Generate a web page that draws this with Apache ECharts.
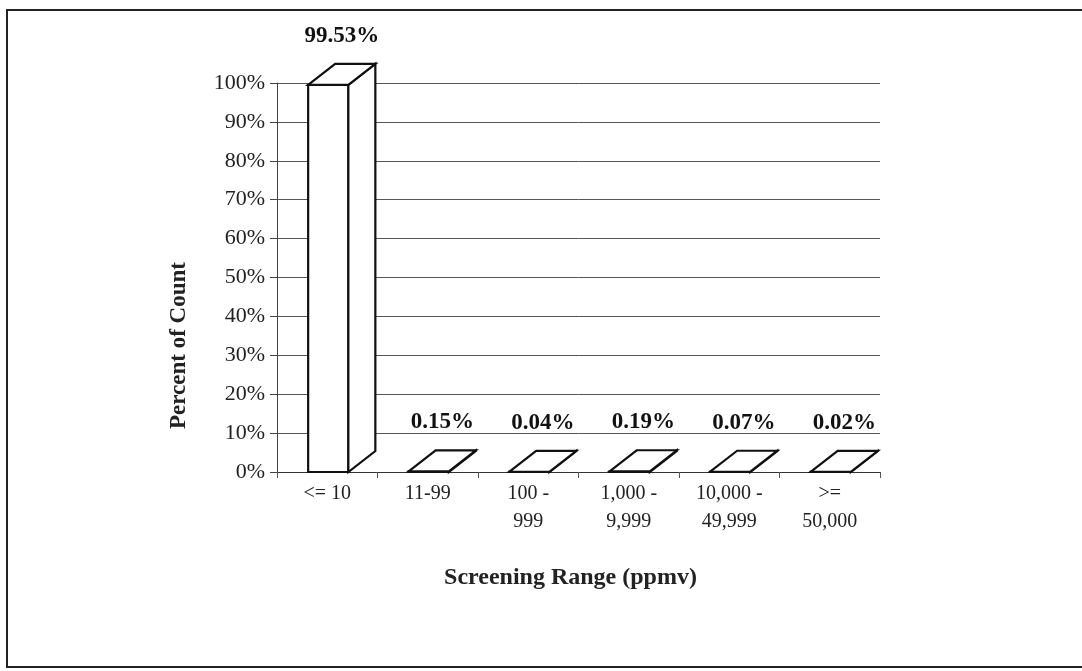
<!DOCTYPE html>
<html>
<head>
<meta charset="utf-8">
<script src="https://cdn.jsdelivr.net/npm/echarts@6/dist/echarts.min.js"></script>
<style>html,body{margin:0;padding:0;background:#fff;}#c{width:1082px;height:671px;}</style>
</head>
<body>
<div id="c"></div>
<script>
var categories = ['<= 10', '11-99', '100 -\n999', '1,000 -\n9,999', '10,000 -\n49,999', '>=\n50,000'];
var values = [99.53, 0.15, 0.04, 0.19, 0.07, 0.02];
var yTicks = [0, 10, 20, 30, 40, 50, 60, 70, 80, 90, 100];

var chart = echarts.init(document.getElementById('c'));
var DX = 27, DY = -21;
var FONT = '"Liberation Serif", "Times New Roman", serif';

chart.setOption({
  animation: false,
  backgroundColor: '#fff',
  grid: { left: 277, right: 202, top: 83, bottom: 199 },
  graphic: [{
    type: 'rect', shape: { x: 7, y: 10, width: 1100, height: 657 },
    style: { fill: 'none', stroke: '#222', lineWidth: 2 }, silent: true, z: 100
  }],
  xAxis: {
    type: 'category',
    data: categories,
    boundaryGap: true,
    axisLine: { show: true, lineStyle: { color: '#333', width: 1 } },
    axisTick: { show: true, length: 6, lineStyle: { color: '#555' } },
    axisLabel: { fontFamily: FONT, fontSize: 20, color: '#222', lineHeight: 28, margin: 8, interval: 0 },
    name: 'Screening Range (ppmv)',
    nameLocation: 'middle',
    nameGap: 94,
    nameTextStyle: { fontFamily: FONT, fontSize: 24, fontWeight: 'bold', color: '#222', padding: [0, 16, 0, 0] }
  },
  yAxis: {
    type: 'value',
    min: 0, max: 100, interval: 10,
    axisLine: { show: true, lineStyle: { color: '#444', width: 1 } },
    axisTick: { show: true, length: 7, lineStyle: { color: '#444' } },
    axisLabel: { fontFamily: FONT, fontSize: 22, color: '#222', margin: 12, formatter: '{value}%' },
    splitLine: { show: true, lineStyle: { color: '#555', width: 1 } },
    name: 'Percent of Count',
    nameLocation: 'middle',
    nameGap: 86,
    nameTextStyle: { fontFamily: FONT, fontSize: 23, fontWeight: 'bold', color: '#222', padding: [0, 136, 0, 0] }
  },
  series: [{
    type: 'custom',
    data: values.map(function (v, i) { return [i, v]; }),
    renderItem: function (params, api) {
      var idx = api.value(0), v = api.value(1);
      var base = api.coord([idx, 0]);
      var top = api.coord([idx, v]);
      var bw = api.size([1, 0])[0] * 0.4;
      var x0 = base[0] - bw / 2 + 1, x1 = x0 + bw;
      var y0 = base[1], y1 = top[1];
      var st = { fill: '#fff', stroke: '#111', lineWidth: 2.2, lineJoin: 'miter' };
      return {
        type: 'group',
        children: [
          { type: 'rect', shape: { x: x0, y: y1, width: bw, height: y0 - y1 }, style: st },
          { type: 'polygon', shape: { points: [[x1, y1], [x1 + DX, y1 + DY], [x1 + DX, y0 + DY], [x1, y0]] }, style: st },
          { type: 'polygon', shape: { points: [[x0, y1], [x0 + DX, y1 + DY], [x1 + DX, y1 + DY], [x1, y1]] }, style: st },
          { type: 'text', style: {
              x: (x0 + x1 + DX) / 2, y: y1 + DY - 28,
              text: v.toFixed(2) + '%', align: 'center', verticalAlign: 'middle',
              font: 'bold 23px ' + FONT, fill: '#111'
          } }
        ]
      };
    }
  }]
});
</script>
</body>
</html>
